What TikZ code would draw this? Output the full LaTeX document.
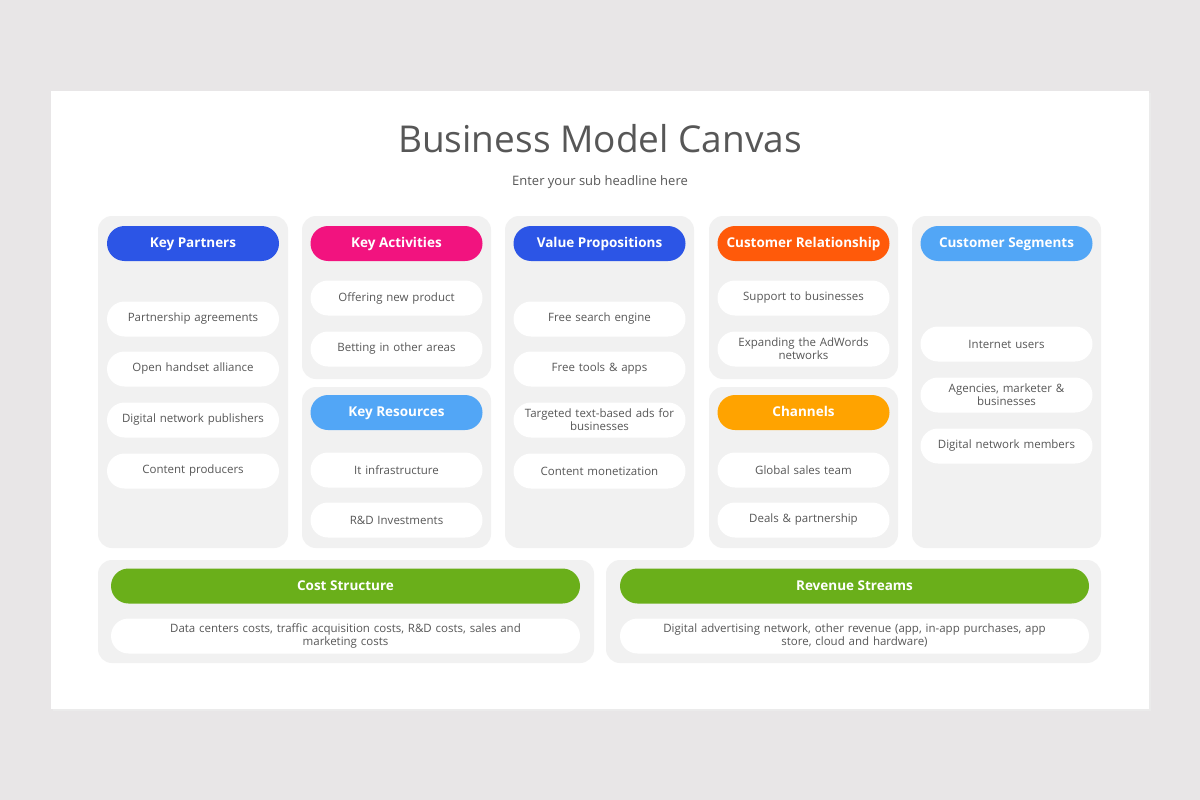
\documentclass[tikz,border=0pt]{standalone}
\usepackage{fontspec}
\setmainfont{Open Sans}
\usetikzlibrary{positioning}

\definecolor{pagebg}{HTML}{E8E6E7}
\definecolor{panelgray}{HTML}{F1F1F1}
\definecolor{inkgray}{HTML}{575757}
\definecolor{royalblue}{HTML}{2C55E6}
\definecolor{hotpink}{HTML}{F2137F}
\definecolor{redorange}{HTML}{FF5A0A}
\definecolor{skyblue}{HTML}{52A6F6}
\definecolor{amber}{HTML}{FFA300}
\definecolor{leafgreen}{HTML}{6AAF1A}

\tikzset{
  panel/.style={fill=panelgray, rounded corners=14pt, inner sep=0pt},
  head/.style={fill=#1, text=white, rounded corners=17.5pt, minimum width=172pt,
    minimum height=35pt, inner sep=0pt, text height=10pt, text depth=1.5pt,
    font=\fontsize{13.5}{16}\selectfont\bfseries},
  item/.style={fill=white, text=inkgray, rounded corners=17.5pt, minimum width=172pt,
    minimum height=35pt, inner sep=0pt, align=center, text width=160pt,
    font=\fontsize{11.5}{13}\selectfont},
  wide/.style={minimum width=469pt, text width=440pt}
}

\begin{document}
\begin{tikzpicture}[x=1pt, y=-1pt]

    % page and card
    \useasboundingbox (0,0) rectangle (1200,800);
    \fill[pagebg] (0,0) rectangle (1200,800);
    \fill[black!8] (53,93) rectangle (1151,711);
    \fill[white] (51,91) rectangle (1149,709);

    \node[text=inkgray, font=\fontsize{37}{42}\selectfont] (title) at (600,139) {Business Model Canvas};
    \node[text=inkgray, font=\fontsize{13}{15}\selectfont] (sub) at (600,182) {Enter your sub headline here};

    % key partners
    \node[panel, minimum width=190pt, minimum height=332pt] (p1) at (193,382) {};
    \node[head=royalblue] (kp) at (193,243.5) {Key Partners};
    \node[item] (kp1) at (193,319) {Partnership agreements};
    \node[item] (kp2) at (193,369) {Open handset alliance};
    \node[item] (kp3) at (193,420) {Digital network publishers};
    \node[item] (kp4) at (193,471) {Content producers};

    % key activities
    \node[panel, minimum width=189pt, minimum height=163pt] (p2) at (396.5,297.5) {};
    \node[head=hotpink] (ka) at (396.5,243.5) {Key Activities};
    \node[item] (ka1) at (396.5,298) {Offering new product};
    \node[item] (ka2) at (396.5,349) {Betting in other areas};

    % key resources
    \node[panel, minimum width=189pt, minimum height=161pt] (p3) at (396.5,467.5) {};
    \node[head=skyblue] (kr) at (396.5,412.5) {Key Resources};
    \node[item] (kr1) at (396.5,470) {It infrastructure};
    \node[item] (kr2) at (396.5,520) {R\&D Investments};

    % value propositions
    \node[panel, minimum width=189pt, minimum height=332pt] (p4) at (599.5,382) {};
    \node[head=royalblue] (vp) at (599.5,243.5) {Value Propositions};
    \node[item] (vp1) at (599.5,319) {Free search engine};
    \node[item] (vp2) at (599.5,369) {Free tools \& apps};
    \node[item] (vp3) at (599.5,420) {Targeted text-based ads for\\businesses};
    \node[item] (vp4) at (599.5,471) {Content monetization};

    % customer relationship
    \node[panel, minimum width=189pt, minimum height=163pt] (p5) at (803.5,297.5) {};
    \node[head=redorange] (cr) at (803.5,243.5) {Customer Relationship};
    \node[item] (cr1) at (803.5,298) {Support to businesses};
    \node[item] (cr2) at (803.5,349) {Expanding the AdWords\\networks};

    % channels
    \node[panel, minimum width=189pt, minimum height=161pt] (p6) at (803.5,467.5) {};
    \node[head=amber] (ch) at (803.5,412.5) {Channels};
    \node[item] (ch1) at (803.5,470) {Global sales team};
    \node[item] (ch2) at (803.5,520) {Deals \& partnership};

    % customer segments
    \node[panel, minimum width=189pt, minimum height=332pt] (p7) at (1006.5,382) {};
    \node[head=skyblue] (cs) at (1006.5,243.5) {Customer Segments};
    \node[item] (cs1) at (1006.5,344) {Internet users};
    \node[item] (cs2) at (1006.5,395) {Agencies, marketer \&\\businesses};
    \node[item] (cs3) at (1006.5,446) {Digital network members};

    % cost structure
    \node[panel, minimum width=496pt, minimum height=103pt] (p8) at (346,611.5) {};
    \node[head=leafgreen, minimum width=469pt] (cost) at (345.5,586) {Cost Structure};
    \node[item, wide] (cost1) at (345.5,636) {Data centers costs, traffic acquisition costs, R\&D costs, sales and\\marketing costs};

    % revenue streams
    \node[panel, minimum width=495pt, minimum height=103pt] (p9) at (853.5,611.5) {};
    \node[head=leafgreen, minimum width=469pt] (rev) at (854.5,586) {Revenue Streams};
    \node[item, wide] (rev1) at (854.5,636) {Digital advertising network, other revenue (app, in-app purchases, app\\store, cloud and hardware)};

\end{tikzpicture}
\end{document}
